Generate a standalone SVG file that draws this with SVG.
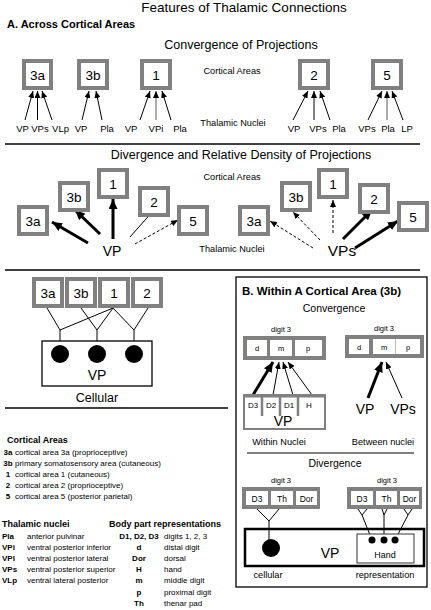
<svg xmlns="http://www.w3.org/2000/svg" width="431" height="610" viewBox="0 0 431 610">
<defs>
<style>
text{font-family:"Liberation Sans",Arial,sans-serif;fill:#000}
.t{font-size:13.5px}
.h{font-size:11px;font-weight:bold}
.sub{font-size:12.5px}
.sm{font-size:9.2px}
.nl{font-size:9.5px}
.bl{font-size:13.5px}
.lg{font-size:8px}
.lgb{font-size:8px;font-weight:bold}
.lh{font-size:9px;font-weight:bold}
.c{text-anchor:middle}
.gb{fill:#fff;stroke:#808080;stroke-width:4}
.ln{stroke:#000;stroke-width:1;fill:none}
.th{stroke:#000;stroke-width:3;fill:none}
.dash{stroke:#000;stroke-width:1;fill:none;stroke-dasharray:3,2}
.gray{stroke:#808080;stroke-width:1.3;fill:none}
</style>
<marker id="a" markerUnits="userSpaceOnUse" markerWidth="8" markerHeight="6" refX="7" refY="3" orient="auto"><path d="M0,0 L7,3 L0,6 Z" fill="#000"/></marker>
<marker id="ab" markerUnits="userSpaceOnUse" markerWidth="11" markerHeight="9" refX="10" refY="4.5" orient="auto"><path d="M0,0 L10,4.5 L0,9 Z" fill="#000"/></marker>
</defs>
<rect width="431" height="610" fill="#fff"/>

<text class="t c" x="244" y="12">Features of Thalamic Connections</text>
<text class="h" x="7" y="28">A. Across Cortical Areas</text>
<text class="sub c" x="241" y="49">Convergence of Projections</text>
<text class="sm c" x="232" y="74">Cortical Areas</text>
<text class="sm c" x="233" y="126">Thalamic Nuclei</text>

<g id="conv-3a"><rect class="gb" x="24" y="61" width="27" height="27"/><text class="bl c" x="37.5" y="80">3a</text></g>
<g id="conv-3b"><rect class="gb" x="79" y="61" width="28" height="27"/><text class="bl c" x="93" y="80">3b</text></g>
<g id="conv-1"><rect class="gb" x="142" y="61" width="28" height="27"/><text class="bl c" x="156" y="80">1</text></g>
<g id="conv-2"><rect class="gb" x="300" y="61" width="28" height="27"/><text class="bl c" x="314" y="80">2</text></g>
<g id="conv-5"><rect class="gb" x="373" y="61" width="28" height="27"/><text class="bl c" x="387" y="80">5</text></g>

<g id="conv-nuclei">
<text class="nl c" x="22.5" y="132">VP</text><text class="nl c" x="40" y="132">VPs</text><text class="nl c" x="60.5" y="132">VLp</text>
<text class="nl c" x="81" y="132">VP</text><text class="nl c" x="107" y="132">Pla</text>
<text class="nl c" x="131" y="132">VP</text><text class="nl c" x="156" y="132">VPi</text><text class="nl c" x="180" y="132">Pla</text>
<text class="nl c" x="294" y="132">VP</text><text class="nl c" x="318" y="132">VPs</text><text class="nl c" x="339" y="132">Pla</text>
<text class="nl c" x="367" y="132">VPs</text><text class="nl c" x="388" y="132">Pla</text><text class="nl c" x="407" y="132">LP</text>
</g>

<g id="connectors">
<line class="ln" x1="25" y1="120" x2="33" y2="91" marker-end="url(#a)"/>
<line class="ln" x1="37.5" y1="120" x2="37.5" y2="91" marker-end="url(#a)"/>
<line class="ln" x1="52" y1="120" x2="42" y2="91" marker-end="url(#a)"/>
<line class="ln" x1="82" y1="120" x2="89" y2="91" marker-end="url(#a)"/>
<line class="ln" x1="102" y1="120" x2="96" y2="91" marker-end="url(#a)"/>
<line class="ln" x1="140" y1="120" x2="150" y2="91" marker-end="url(#a)"/>
<line class="gray" x1="156" y1="120" x2="156" y2="91" marker-end="url(#a)"/>
<line class="ln" x1="171" y1="120" x2="162" y2="91" marker-end="url(#a)"/>
<line class="ln" x1="293" y1="120" x2="308" y2="91" marker-end="url(#a)"/>
<line class="ln" x1="314" y1="120" x2="314" y2="91" marker-end="url(#a)"/>
<line class="ln" x1="330" y1="120" x2="320" y2="91" marker-end="url(#a)"/>
<line class="ln" x1="368" y1="120" x2="382" y2="91" marker-end="url(#a)"/>
<line class="gray" x1="387" y1="120" x2="387" y2="91" marker-end="url(#a)"/>
<line class="ln" x1="403" y1="120" x2="392" y2="91" marker-end="url(#a)"/>

<line x1="88" y1="243" x2="52" y2="222" class="th" marker-end="url(#ab)"/>
<line x1="100" y1="234" x2="75" y2="210" class="th" marker-end="url(#ab)"/>
<line x1="113" y1="239" x2="113" y2="199" class="th" stroke-width="3.5" marker-end="url(#ab)"/>
<line x1="130" y1="237" x2="154" y2="210" class="ln" marker-end="url(#a)"/>
<line x1="135" y1="244" x2="178" y2="220" class="dash" marker-end="url(#a)"/>

<line x1="313" y1="248" x2="270" y2="221" class="dash" marker-end="url(#a)"/>
<line x1="320" y1="240" x2="293" y2="212" class="dash" marker-end="url(#a)"/>
<line x1="333" y1="233" x2="333" y2="200" class="dash" marker-end="url(#a)"/>
<line x1="343" y1="239" x2="372" y2="210" class="th" marker-end="url(#ab)"/>
<line x1="355" y1="248" x2="398" y2="221" class="th" marker-end="url(#ab)"/>

<path class="ln" d="M47,308 L60,330 L113,308 M81,308 L97,330 L113,308 L134,330 L148,308 M60,330 V346 M97,330 V346 M134,330 V346"/>

<line class="th" x1="253" y1="395" x2="273" y2="362" marker-end="url(#ab)" stroke-width="2.5"/>
<line class="ln" x1="273" y1="395" x2="279" y2="362" marker-end="url(#a)"/>
<line class="ln" x1="293" y1="395" x2="283" y2="362" marker-end="url(#a)"/>
<line class="ln" x1="312" y1="395" x2="288" y2="362" marker-end="url(#a)"/>
<line class="th" x1="368" y1="398" x2="382" y2="362" marker-end="url(#ab)" stroke-width="2.5"/>
<line class="ln" x1="402" y1="398" x2="386" y2="362" marker-end="url(#a)"/>

<path class="ln" d="M257,509 L269,521 L279,509 M269,521 V540"/>
<path class="ln" d="M358,509 L362,515 L367,509 M362,515 L372,540 M382,509 L384,515 L387,509 M384,515 V540 M404,509 L408,515 L412,509 M408,515 L395,540"/>
</g>

<line x1="5" y1="144" x2="420" y2="144" stroke="#000" stroke-width="1.5"/>
<text class="sub c" x="241" y="159">Divergence and Relative Density of Projections</text>
<text class="sm c" x="232" y="180">Cortical Areas</text>
<text class="sm c" x="232" y="252">Thalamic Nuclei</text>

<g id="div-vp-3a"><rect class="gb" x="19" y="207" width="28" height="27"/><text class="bl c" x="33" y="226">3a</text></g>
<g id="div-vp-3b"><rect class="gb" x="60" y="183" width="28" height="27"/><text class="bl c" x="74" y="202">3b</text></g>
<g id="div-vp-1"><rect class="gb" x="99" y="170" width="28" height="27"/><text class="bl c" x="113" y="189">1</text></g>
<g id="div-vp-2"><rect class="gb" x="140" y="188" width="28" height="27"/><text class="bl c" x="154" y="207">2</text></g>
<g id="div-vp-5"><rect class="gb" x="179" y="207" width="28" height="27"/><text class="bl c" x="193" y="226">5</text></g>
<g id="div-vp"><text class="c" style="font-size:14px" x="112" y="256">VP</text></g>

<g id="div-vps-3a"><rect class="gb" x="240" y="207" width="28" height="27"/><text class="bl c" x="254" y="226">3a</text></g>
<g id="div-vps-3b"><rect class="gb" x="282" y="183" width="28" height="27"/><text class="bl c" x="296" y="202">3b</text></g>
<g id="div-vps-1"><rect class="gb" x="319" y="170" width="28" height="27"/><text class="bl c" x="333" y="189">1</text></g>
<g id="div-vps-2"><rect class="gb" x="360" y="185" width="28" height="27"/><text class="bl c" x="374" y="204">2</text></g>
<g id="div-vps-5"><rect class="gb" x="399" y="203" width="28" height="27"/><text class="bl c" x="413" y="222">5</text></g>
<g id="div-vps"><text class="c" style="font-size:15.5px" x="342" y="256">VPs</text></g>

<line x1="5" y1="270" x2="420" y2="270" stroke="#000" stroke-width="1.5"/>

<g id="cell-3a"><rect class="gb" x="34" y="279" width="28" height="27"/><text class="bl c" x="48" y="298">3a</text></g>
<g id="cell-3b"><rect class="gb" x="67" y="279" width="28" height="27"/><text class="bl c" x="81" y="298">3b</text></g>
<g id="cell-1"><rect class="gb" x="100" y="279" width="28" height="27"/><text class="bl c" x="114" y="298">1</text></g>
<g id="cell-2"><rect class="gb" x="133" y="279" width="28" height="27"/><text class="bl c" x="147" y="298">2</text></g>
<g id="cell-vp">
<rect x="42" y="341" width="110" height="45" fill="#fff" stroke="#000" stroke-width="1.3"/>
<circle cx="60" cy="354" r="9"/><circle cx="97" cy="354" r="9"/><circle cx="134" cy="354" r="9"/>
<text class="c" style="font-size:14px" x="97" y="380">VP</text>
</g>
<text class="c" style="font-size:12.5px" x="97" y="402">Cellular</text>
<line x1="5" y1="408" x2="228" y2="408" stroke="#000" stroke-width="1.3"/>

<g id="legend">
<text class="lh" x="7" y="443">Cortical Areas</text>
<text class="lgb c" x="8" y="455">3a</text><text class="lg" x="15" y="455">cortical area 3a (proprioceptive)</text>
<text class="lgb c" x="8" y="466">3b</text><text class="lg" x="15" y="466">primary somatosensory area (cutaneous)</text>
<text class="lgb c" x="8" y="477">1</text><text class="lg" x="15" y="477">cortical area 1 (cutaneous)</text>
<text class="lgb c" x="8" y="488">2</text><text class="lg" x="15" y="488">cortical area 2 (proprioceptive)</text>
<text class="lgb c" x="8" y="499">5</text><text class="lg" x="15" y="499">cortical area 5 (posterior parietal)</text>

<text class="lh" x="2" y="527">Thalamic nuclei</text>
<text class="lgb" x="2" y="539">Pla</text><text class="lg" x="27" y="539">anterior pulvinar</text>
<text class="lgb" x="2" y="550">VPi</text><text class="lg" x="27" y="550">ventral posterior inferior</text>
<text class="lgb" x="2" y="561">VPl</text><text class="lg" x="27" y="561">ventral posterior lateral</text>
<text class="lgb" x="2" y="572">VPs</text><text class="lg" x="27" y="572">ventral posterior superior</text>
<text class="lgb" x="2" y="583">VLp</text><text class="lg" x="27" y="583">ventral lateral posterior</text>

<text class="lh" x="109" y="527">Body part representations</text>
<text class="lgb c" x="139" y="539">D1, D2, D3</text><text class="lg" x="164" y="539">digits 1, 2, 3</text>
<text class="lgb c" x="139" y="550">d</text><text class="lg" x="164" y="550">distal digit</text>
<text class="lgb c" x="139" y="561">Dor</text><text class="lg" x="164" y="561">dorsal</text>
<text class="lgb c" x="139" y="572">H</text><text class="lg" x="164" y="572">hand</text>
<text class="lgb c" x="139" y="583">m</text><text class="lg" x="164" y="583">middle digit</text>
<text class="lgb c" x="139" y="595">p</text><text class="lg" x="164" y="595">proximal digit</text>
<text class="lgb c" x="139" y="606">Th</text><text class="lg" x="164" y="606">thenar pad</text>
</g>

<g id="panel-b">
<rect x="236" y="277" width="191" height="310" fill="none" stroke="#000" stroke-width="1.3"/>
<text style="font-size:11.5px;font-weight:bold" x="242" y="295">B. Within A Cortical Area (3b)</text>
<text class="c" style="font-size:10.5px" x="334" y="312">Convergence</text>
</g>

<g id="b-conv-strip-left">
<text class="c" style="font-size:7.5px" x="281" y="332">digit 3</text>
<rect x="243" y="336" width="83" height="24" fill="#808080"/>
<rect x="247" y="340" width="20" height="16" fill="#fff"/><rect x="270" y="340" width="22" height="16" fill="#fff"/><rect x="295" y="340" width="27" height="16" fill="#fff"/>
<text class="c" style="font-size:7.5px" x="257" y="351">d</text><text class="c" style="font-size:7.5px" x="281" y="351">m</text><text class="c" style="font-size:7.5px" x="308" y="351">p</text>
</g>
<g id="b-conv-vp">
<rect x="244" y="395" width="81" height="34" fill="#fff" stroke="#808080" stroke-width="2"/>
<line x1="243" y1="396" x2="326" y2="396" stroke="#808080" stroke-width="3"/>
<path d="M262,395 V416 M280,395 V416 M298,395 V416" stroke="#808080" stroke-width="2.5"/>
<text class="c" style="font-size:8px" x="253" y="408">D3</text><text class="c" style="font-size:8px" x="271" y="408">D2</text><text class="c" style="font-size:8px" x="289" y="408">D1</text><text class="c" style="font-size:8px" x="309" y="408">H</text>
<text class="c" style="font-size:14px" x="283" y="426">VP</text>
</g>
<text class="c" style="font-size:9.2px" x="279" y="445">Within Nuclei</text>

<g id="b-conv-strip-right">
<text class="c" style="font-size:7.5px" x="384" y="331">digit 3</text>
<rect x="345" y="335" width="79" height="23" fill="#808080"/>
<rect x="349" y="339" width="20" height="15" fill="#fff"/><rect x="373" y="339" width="22" height="15" fill="#fff"/><rect x="396" y="339" width="24" height="15" fill="#fff"/>
<line x1="395.5" y1="339" x2="395.5" y2="354" stroke="#bbb" stroke-width="1"/>
<text class="c" style="font-size:7.5px" x="359" y="350">d</text><text class="c" style="font-size:7.5px" x="384" y="350">m</text><text class="c" style="font-size:7.5px" x="408" y="350">p</text>
</g>
<g id="b-conv-vp2"><text class="c" style="font-size:14px" x="365" y="414">VP</text></g>
<g id="b-conv-vps"><text class="c" style="font-size:14px" x="403" y="414">VPs</text></g>
<text class="c" style="font-size:9.2px" x="383" y="445">Between nuclei</text>

<line x1="247" y1="453" x2="414" y2="453" stroke="#000" stroke-width="1"/>
<text class="c" style="font-size:10.5px" x="335" y="467">Divergence</text>

<g id="b-div-strip-left">
<text class="c" style="font-size:7.5px" x="281" y="483">digit 3</text>
<rect x="242" y="487" width="78" height="22" fill="#808080"/>
<rect x="246" y="491" width="22" height="14" fill="#fff"/><rect x="271" y="491" width="22" height="14" fill="#fff"/><rect x="296" y="491" width="21" height="14" fill="#fff"/>
<text class="c" style="font-size:8.5px" x="257" y="501.5">D3</text><text class="c" style="font-size:8.5px" x="282" y="501.5">Th</text><text class="c" style="font-size:8.5px" x="306.5" y="501.5">Dor</text>
</g>
<g id="b-div-strip-right">
<text class="c" style="font-size:7.5px" x="387" y="483">digit 3</text>
<rect x="347" y="487" width="75" height="22" fill="#808080"/>
<rect x="351" y="491" width="22" height="14" fill="#fff"/><rect x="376" y="491" width="21" height="14" fill="#fff"/><rect x="400" y="491" width="19" height="14" fill="#fff"/>
<text class="c" style="font-size:8.5px" x="362" y="501.5">D3</text><text class="c" style="font-size:8.5px" x="386.5" y="501.5">Th</text><text class="c" style="font-size:8.5px" x="409.5" y="501.5">Dor</text>
</g>
<g id="b-div-vp">
<rect x="245" y="529" width="179" height="37" fill="none" stroke="#000" stroke-width="2.5"/>
<circle cx="271" cy="548" r="9"/>
<text class="c" style="font-size:14px" x="330" y="558">VP</text>
</g>
<g id="b-div-hand">
<rect x="357" y="534" width="57" height="29" fill="#fff" stroke="#333" stroke-width="1"/>
<circle cx="372" cy="540" r="3.5"/><circle cx="384" cy="540" r="3.5"/><circle cx="395" cy="540" r="3.5"/>
<text class="c" style="font-size:9px" x="385" y="558">Hand</text>
</g>
<text class="c" style="font-size:9.2px" x="268" y="578">cellular</text>
<text class="c" style="font-size:9.2px" x="385" y="578">representation</text>
</svg>
